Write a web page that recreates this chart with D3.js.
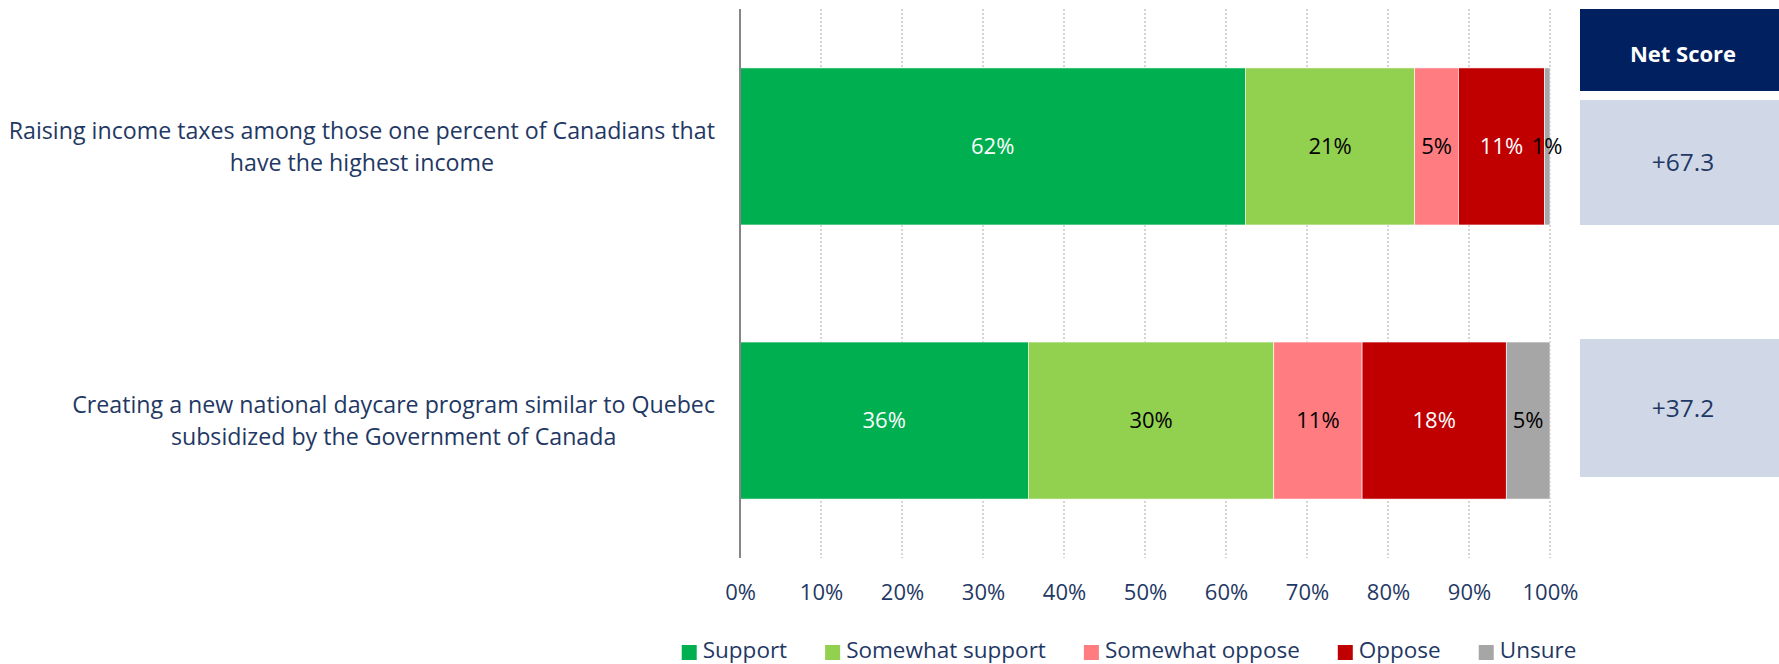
<!DOCTYPE html>
<html>
<head>
<meta charset="utf-8">
<script src="https://cdn.jsdelivr.net/npm/d3@7"></script>
<style>
  body { margin: 0; background: #fff; }
  svg text { font-family: "Open Sans", "Noto Sans", sans-serif; }
</style>
</head>
<body>
<div id="chart"></div>
<script>
// data
var categories = [
  ['Raising income taxes among those one percent of Canadians that', 'have the highest income'],
  ['Creating a new national daycare program similar to Quebec', 'subsidized by the Government of Canada']
]
var seriesNames = ['Support', 'Somewhat support', 'Somewhat oppose', 'Oppose', 'Unsure']
var support = [62.4, 35.6]
var somewhatSupport = [20.9, 30.3]
var somewhatOppose = [5.4, 10.9]
var oppose = [10.6, 17.8]
var unsure = [0.7, 5.4]
var netScores = ['+67.3', '+37.2']
var xTicks = [0, 10, 20, 30, 40, 50, 60, 70, 80, 90, 100]

var colors = ['#00B050', '#92D050', '#FF7C80', '#C00000', '#A6A6A6']
var labelColors = ['#fff', '#000', '#000', '#fff', '#000']
var navy = '#1F3864'

var width = 1779, height = 664
var svg = d3.select('#chart').append('svg')
  .attr('width', width)
  .attr('height', height)

var x = d3.scaleLinear().domain([0, 100]).range([740, 1550])
var y = d3.scaleBand()
  .domain(d3.range(categories.length))
  .range([9, 558])
  .paddingInner(0.427)
  .paddingOuter(0.215)

// gridlines
svg.append('g')
  .selectAll('line')
  .data(xTicks.slice(1))
  .enter().append('line')
  .attr('x1', d => x(d)).attr('x2', d => x(d))
  .attr('y1', 9).attr('y2', 558)
  .attr('stroke', '#BFBFBF')
  .attr('stroke-width', 1.3)
  .attr('stroke-dasharray', '2,2')

// stacked bars
var rows = categories.map((c, i) => ({
  support: support[i], somewhatSupport: somewhatSupport[i], somewhatOppose: somewhatOppose[i],
  oppose: oppose[i], unsure: unsure[i]
}))
var keys = ['support', 'somewhatSupport', 'somewhatOppose', 'oppose', 'unsure']
var stack = d3.stack().keys(keys)(rows)

var layers = svg.append('g').selectAll('g')
  .data(stack)
  .enter().append('g')
  .attr('fill', (d, i) => colors[i])

layers.selectAll('rect')
  .data(d => d)
  .enter().append('rect')
  .attr('x', d => x(d[0]))
  .attr('y', (d, i) => y(i))
  .attr('width', d => x(d[1]) - x(d[0]))
  .attr('height', y.bandwidth())
  .attr('stroke', '#fff')
  .attr('stroke-width', 0.6)

layers.each(function (layer, k) {
  d3.select(this).selectAll('text')
    .data(layer)
    .enter().append('text')
    .attr('x', d => (x(d[0]) + x(d[1])) / 2)
    .attr('y', (d, i) => y(i) + y.bandwidth() / 2)
    .attr('dy', '0.35em')
    .attr('text-anchor', 'middle')
    .attr('font-size', '22px')
    .attr('fill', labelColors[k])
    .text(d => Math.round(d[1] - d[0]) + '%')
})

// axis line
svg.append('line')
  .attr('x1', 740).attr('x2', 740)
  .attr('y1', 9).attr('y2', 558)
  .attr('stroke', '#868686')
  .attr('stroke-width', 2)

// x tick labels
var xAxis = svg.append('g')
  .attr('transform', 'translate(0,558)')
  .call(d3.axisBottom(x).tickValues(xTicks).tickSize(0).tickPadding(26).tickFormat(d => d + '%'))
xAxis.select('.domain').remove()
xAxis.selectAll('text')
  .attr('font-size', '22px')
  .attr('fill', navy)
  .attr('font-family', '"Open Sans", sans-serif')

// category labels
categories.forEach((lines, i) => {
  var cy = y(i) + y.bandwidth() / 2
  var g = svg.append('g')
  var texts = g.selectAll('text')
    .data(lines)
    .enter().append('text')
    .attr('y', (d, j) => cy + (j - (lines.length - 1) / 2) * 32)
    .attr('dy', '0.35em')
    .attr('text-anchor', 'middle')
    .attr('font-size', '23.2px')
    .attr('fill', navy)
    .text(d => d)
  var maxW = d3.max(texts.nodes(), n => n.getComputedTextLength())
  texts.attr('x', 715 - maxW / 2)
})

// net score panel
svg.append('rect')
  .attr('x', 1580).attr('y', 9)
  .attr('width', 199).attr('height', 82)
  .attr('fill', '#002060')
svg.append('text')
  .attr('x', 1683).attr('y', 54)
  .attr('dy', '0.35em')
  .attr('text-anchor', 'middle')
  .attr('font-size', '22px')
  .attr('font-weight', 'bold')
  .attr('fill', '#fff')
  .text('Net Score')

var boxes = [[100, 225], [339, 477]]
netScores.forEach((s, i) => {
  svg.append('rect')
    .attr('x', 1580).attr('y', boxes[i][0])
    .attr('width', 199).attr('height', boxes[i][1] - boxes[i][0])
    .attr('fill', '#D0D8E8')
  svg.append('text')
    .attr('x', 1683).attr('y', (boxes[i][0] + boxes[i][1]) / 2)
    .attr('dy', '0.35em')
    .attr('text-anchor', 'middle')
    .attr('font-size', '24.5px')
    .attr('fill', navy)
    .text(s)
})

// legend
var legend = svg.append('g')
var lx = 0
var gap = 38
seriesNames.forEach((name, i) => {
  var item = legend.append('g').attr('transform', 'translate(' + lx + ',0)')
  item.append('rect')
    .attr('x', 0).attr('y', 645)
    .attr('width', 15).attr('height', 15)
    .attr('fill', colors[i])
  var t = item.append('text')
    .attr('x', 21).attr('y', 658)
    .attr('font-size', '22.5px')
    .attr('fill', navy)
    .text(name)
  lx += 21 + t.node().getComputedTextLength() + gap
})
var legendW = lx - gap
legend.attr('transform', 'translate(' + (1129 - legendW / 2) + ',0)')
</script>
</body>
</html>
